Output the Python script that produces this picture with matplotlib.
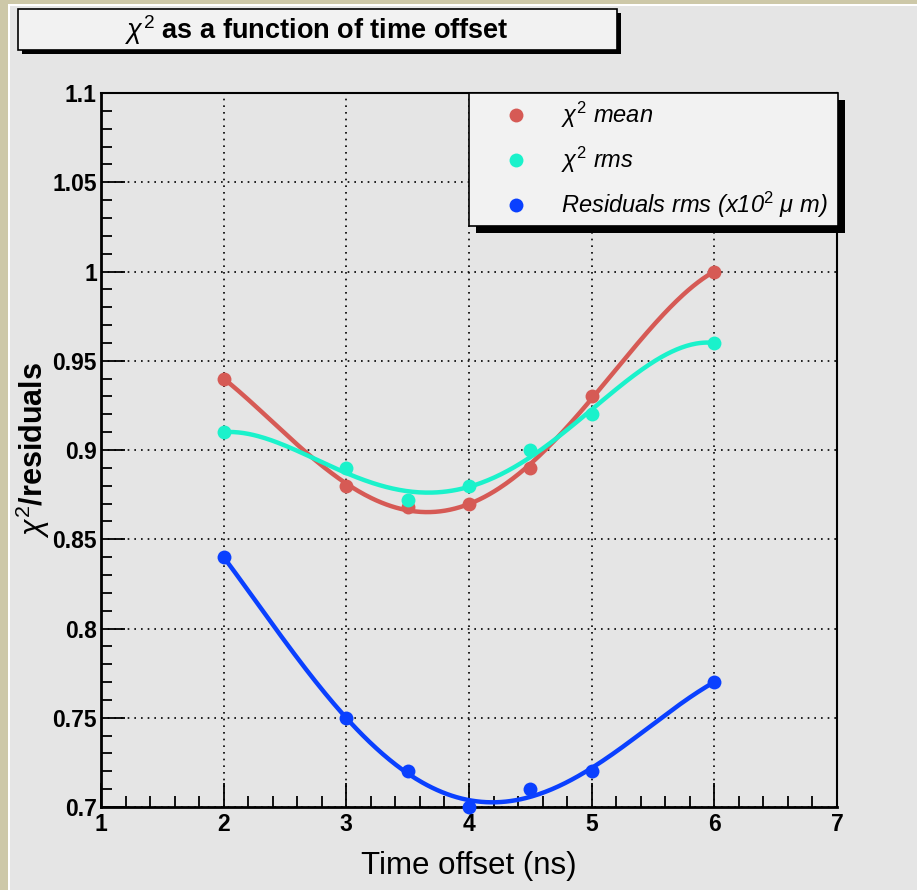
import numpy as np
import matplotlib
matplotlib.use("Agg")
import matplotlib.pyplot as plt
from matplotlib.patches import Rectangle
from matplotlib.lines import Line2D
from matplotlib.ticker import MultipleLocator

# ---- data ----
x_vals = [2, 3, 3.5, 4, 4.5, 5, 6]
chi2_mean = [0.94, 0.88, 0.868, 0.87, 0.89, 0.93, 1.00]
chi2_rms = [0.91, 0.89, 0.872, 0.88, 0.90, 0.92, 0.96]
resid_rms = [0.84, 0.75, 0.72, 0.70, 0.71, 0.72, 0.77]
series_labels = [r"$\chi^{2}$ mean", r"$\chi^{2}$ rms", r"Residuals rms (x10$^{2}$ $\mu$ m)"]
title_text = r"$\chi^{2}$ as a function of time offset"
xlabel_text = "Time offset (ns)"
ylabel_text = r"$\chi^{2}$/residuals"

colors = ["#d65a55", "#1af2cb", "#0a40ff"]
BG = "#e5e5e5"
BOX = "#f2f2f2"

W, H = 917, 890
plt.rcParams['font.family'] = ['Liberation Sans', 'DejaVu Sans']
plt.rcParams['mathtext.fontset'] = 'custom'
plt.rcParams['mathtext.rm'] = 'Liberation Sans'
plt.rcParams['mathtext.it'] = 'Liberation Sans:italic'
plt.rcParams['mathtext.bf'] = 'Liberation Sans:bold'

fig = plt.figure(figsize=(W / 100, H / 100), dpi=100, facecolor=BG)

def fx(px):
    return px / W

def fy(py):
    return 1 - py / H

# canvas border (ROOT style)
fig.add_artist(Rectangle((0, 0), fx(8), 1, transform=fig.transFigure, facecolor="#cdc8a8", edgecolor="none"))
fig.add_artist(Rectangle((0, fy(4)), 1, fy(0) - fy(4), transform=fig.transFigure, facecolor="#cdc8a8", edgecolor="none"))
fig.add_artist(Rectangle((fx(8), 0), fx(2), fy(4), transform=fig.transFigure, facecolor="white", edgecolor="none"))
fig.add_artist(Rectangle((fx(8), fy(6)), 1, fy(4) - fy(6), transform=fig.transFigure, facecolor="white", edgecolor="none"))

ax = fig.add_axes([fx(101), fy(807), fx(837) - fx(101), fy(93) - fy(807)])
ax.set_facecolor(BG)
ax.set_xlim(1, 7)
ax.set_ylim(0.7, 1.1)

ax.xaxis.set_major_locator(MultipleLocator(1))
ax.xaxis.set_minor_locator(MultipleLocator(0.2))
ax.yaxis.set_major_locator(MultipleLocator(0.05))
ax.yaxis.set_minor_locator(MultipleLocator(0.01))
ax.grid(True, which='major', color='black', linestyle=(0, (1, 3)), linewidth=1.2)
ax.tick_params(axis='both', which='major', direction='in', length=17, width=1.3, colors='black',
               labelsize=16.5, top=False, right=False)
ax.tick_params(axis='both', which='minor', direction='in', length=8, width=1.3, top=False, right=False)
ax.tick_params(axis='x', which='major', pad=4)
ax.tick_params(axis='y', which='major', pad=3)
ax.set_yticks([0.7, 0.75, 0.8, 0.85, 0.9, 0.95, 1.0, 1.05, 1.1])
ax.set_yticklabels(["0.7", "0.75", "0.8", "0.85", "0.9", "0.95", "1", "1.05", "1.1"], fontweight='bold')
ax.set_xticks([1, 2, 3, 4, 5, 6, 7])
ax.set_xticklabels(["1", "2", "3", "4", "5", "6", "7"], fontweight='bold')

for s in ['left', 'bottom']:
    ax.spines[s].set_linewidth(2.0)
for s in ['top', 'right']:
    ax.spines[s].set_linewidth(1.5)

xs = np.array(x_vals, dtype=float)
xx = np.linspace(xs.min(), xs.max(), 300)
wts = np.array([6, 1, 1, 1, 1, 1, 6], dtype=float)
for ys, c in zip([chi2_mean, chi2_rms, resid_rms], colors):
    ys = np.array(ys, dtype=float)
    coef = np.polyfit(xs, ys, 4, w=wts)
    ax.plot(xx, np.polyval(coef, xx), color=c, linewidth=3.2, zorder=3, solid_capstyle='round')
    ax.plot(xs, ys, 'o', color=c, markersize=10, markeredgewidth=0, zorder=4, clip_on=False)

ax.set_xlabel(xlabel_text, fontsize=22.5)
ax.xaxis.set_label_coords(0.5, -0.062)
ax.set_ylabel(ylabel_text, fontsize=22, fontweight='bold')
ax.yaxis.set_label_coords(-0.066, 0.5)

# title box with shadow
tx0, ty0, tx1, ty1 = 18, 9, 617, 50
fig.add_artist(Rectangle((fx(tx0 + 4), fy(ty1 + 4)), fx(tx1) - fx(tx0), fy(ty0) - fy(ty1),
                         transform=fig.transFigure, facecolor="black", edgecolor="none"))
fig.add_artist(Rectangle((fx(tx0), fy(ty1)), fx(tx1) - fx(tx0), fy(ty0) - fy(ty1),
                         transform=fig.transFigure, facecolor=BOX, edgecolor="black", linewidth=1.2))
fig.text(fx(317), fy(30), title_text, fontsize=19.5, fontweight='bold',
         ha='center', va='center')

# legend box with shadow
lx0, ly0, lx1, ly1 = 469, 93, 838, 226
fig.add_artist(Rectangle((fx(lx0 + 7), fy(ly1 + 7)), fx(lx1) - fx(lx0), fy(ly0) - fy(ly1),
                         transform=fig.transFigure, facecolor="black", edgecolor="none", zorder=5))
fig.add_artist(Rectangle((fx(lx0), fy(ly1)), fx(lx1) - fx(lx0), fy(ly0) - fy(ly1),
                         transform=fig.transFigure, facecolor=BOX, edgecolor="black", linewidth=1.2, zorder=6))
rows = [115, 160, 205]
for lab, c, ry in zip(series_labels, colors, rows):
    fig.add_artist(Line2D([fx(516)], [fy(ry)], marker='o', color=c, markersize=10,
                          markeredgewidth=0, transform=fig.transFigure, zorder=7))
    fig.text(fx(561), fy(ry), lab, fontsize=17, style='italic', ha='left', va='center', zorder=7)

fig.savefig("out.png", dpi=100, facecolor=BG)
